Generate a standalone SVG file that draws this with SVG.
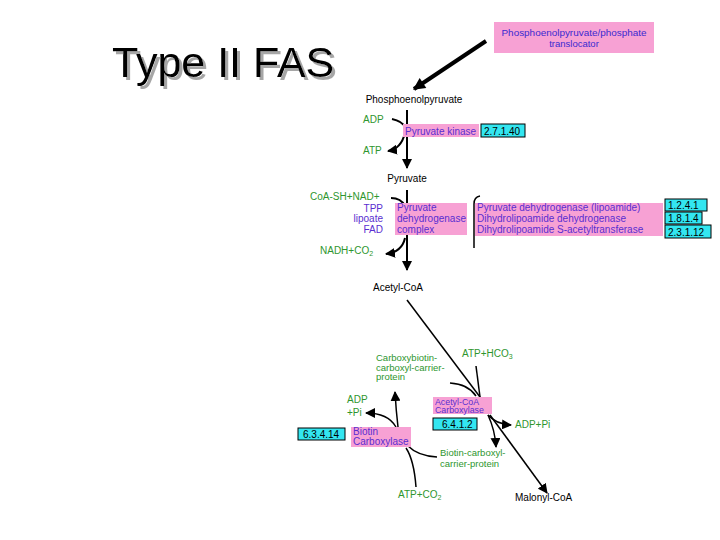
<svg xmlns="http://www.w3.org/2000/svg" width="720" height="540" viewBox="0 0 720 540">
<style>
text{font-family:"Liberation Sans",Arial,sans-serif;}
.cpd{font-size:10px;fill:#000;}
.grn{font-size:10px;fill:#2e962e;}
.sm{font-size:9.5px;}
.enz{font-size:10px;fill:#5a2ed0;}
.ec{font-size:10px;fill:#000;}
.pink{fill:#F7A1D4;}
.cyan{fill:#33E6F0;stroke:#000;stroke-width:1;}
.ln{fill:none;stroke:#000;stroke-width:2;}
.th{fill:none;stroke:#000;stroke-width:1.5;}
</style>
<defs>
<marker id="ah" viewBox="0 0 10 10" refX="9" refY="5" markerWidth="10" markerHeight="10" markerUnits="userSpaceOnUse" orient="auto"><path d="M0,0 L10,5 L0,10 z" fill="#000"/></marker>
<marker id="ahb" viewBox="0 0 10 10" refX="9" refY="5" markerWidth="14" markerHeight="12" markerUnits="userSpaceOnUse" orient="auto"><path d="M0,0 L10,5 L0,10 z" fill="#000"/></marker>
<filter id="shadow" x="-5%" y="-20%" width="115%" height="150%">
<feOffset in="SourceAlpha" dx="3" dy="3" result="o"/>
<feFlood flood-color="#a6a6a6"/>
<feComposite in2="o" operator="in" result="s"/>
<feMerge><feMergeNode in="s"/><feMergeNode in="SourceGraphic"/></feMerge>
</filter>
</defs>
<rect width="720" height="540" fill="#fff"/>
<g id="title">
<text x="112" y="77" font-size="43" fill="#000" filter="url(#shadow)">Type II FAS</text>
</g>
<g id="translocator">
<rect class="pink" x="494" y="22" width="160" height="31"/>
<text x="574" y="36" font-size="9.5" fill="#3a2ad0" text-anchor="middle" textLength="145" lengthAdjust="spacingAndGlyphs">Phosphoenolpyruvate/phosphate</text>
<text x="574" y="47" font-size="9.5" fill="#3a2ad0" text-anchor="middle">translocator</text>
</g>
<g id="connectors">
<path d="M486,41 L414,89" fill="none" stroke="#000" stroke-width="4" marker-end="url(#ahb)"/>
<path class="ln" d="M407,110 L407,168" marker-end="url(#ah)"/>
<path class="ln" d="M392,119 Q402,121 406,128"/>
<path class="ln" d="M405,133 Q401,149 388,151" marker-end="url(#ah)"/>
<path class="ln" d="M407,190 L407,270" marker-end="url(#ah)"/>
<path class="ln" d="M391,198 Q401,198 405,206"/>
<path class="ln" d="M405,238 Q402,252 386,254" marker-end="url(#ah)"/>
<path class="th" d="M407,300 L480,397"/>
<path class="th" d="M476,366 L480,397"/>
<path class="th" d="M450,383 Q468,384 476,396"/>
<path class="th" d="M488,415 Q496,424 511,425" marker-end="url(#ah)"/>
<path class="th" d="M488,415 Q495,430 496,447" marker-end="url(#ah)"/>
<path class="th" d="M490,415 L547,493" marker-end="url(#ah)"/>
<path class="th" d="M437,457 Q418,456 408,446"/>
<path class="th" d="M396,427 Q388,413 366,413" marker-end="url(#ah)"/>
<path class="th" d="M398,427 Q396,410 395,392" marker-end="url(#ah)"/>
<path class="th" d="M416,487 Q414,460 406,448"/>
<path class="th" d="M480,196 Q474,197 474,204 L474,248"/>
</g>
<g id="pep"><text class="cpd" x="414" y="103" text-anchor="middle">Phosphoenolpyruvate</text></g>
<g id="adp1"><text class="grn" x="363" y="123">ADP</text></g>
<g id="atp1"><text class="grn" x="363" y="154">ATP</text></g>
<g id="pk">
<rect class="pink" x="403" y="124" width="76" height="13"/>
<text class="enz" x="405" y="134.5">Pyruvate kinase</text>
<rect class="cyan" x="481" y="124" width="44" height="13"/>
<text class="ec" x="484" y="134.5">2.7.1.40</text>
</g>
<g id="pyruvate"><text class="cpd" x="407" y="182" text-anchor="middle">Pyruvate</text></g>
<g id="coa"><text class="grn" x="310" y="200">CoA-SH+NAD+</text></g>
<g id="cofactors">
<text class="enz" x="383" y="212" text-anchor="end">TPP</text>
<text class="enz" x="383" y="222" text-anchor="end">lipoate</text>
<text class="enz" x="383" y="233" text-anchor="end">FAD</text>
</g>
<g id="pdh">
<rect class="pink" x="395" y="203" width="72" height="32"/>
<text class="enz" x="397" y="211">Pyruvate</text>
<text class="enz" x="397" y="222">dehydrogenase</text>
<text class="enz" x="397" y="233">complex</text>
</g>
<g id="pdh-subunits">
<rect class="pink" x="475" y="203" width="188" height="33"/>
<text class="enz" x="477" y="211">Pyruvate dehydrogenase (lipoamide)</text>
<text class="enz" x="477" y="222">Dihydrolipoamide dehydrogenase</text>
<text class="enz" x="477" y="233">Dihydrolipoamide S-acetyltransferase</text>
</g>
<g id="ec-pdh">
<rect class="cyan" x="665" y="199" width="42" height="12"/>
<text class="ec" x="668" y="209">1.2.4.1</text>
<rect class="cyan" x="665" y="212" width="37" height="12"/>
<text class="ec" x="668" y="222">1.8.1.4</text>
<rect class="cyan" x="665" y="225" width="46" height="13"/>
<text class="ec" x="668" y="235.5">2.3.1.12</text>
</g>
<g id="nadh"><text class="grn" x="320" y="254">NADH+CO<tspan font-size="7" dy="2">2</tspan></text></g>
<g id="acetylcoa"><text class="cpd" x="398" y="291" text-anchor="middle">Acetyl-CoA</text></g>
<g id="atphco3"><text class="grn" x="462" y="357">ATP+HCO<tspan font-size="7" dy="2">3</tspan></text></g>
<g id="carboxybiotin">
<text class="grn sm" x="376" y="361">Carboxybiotin-</text>
<text class="grn sm" x="376" y="370.5">carboxyl-carrier-</text>
<text class="grn sm" x="376" y="380">protein</text>
</g>
<g id="acc">
<rect class="pink" x="433" y="397" width="59" height="17"/>
<text x="435" y="404.5" font-size="8.8" fill="#5a2ed0">Acetyl-CoA</text>
<text x="435" y="413" font-size="8.8" fill="#5a2ed0">Carboxylase</text>
<rect class="cyan" x="433" y="418" width="44" height="12"/>
<text class="ec" x="442" y="428">6.4.1.2</text>
</g>
<g id="adppi2"><text class="grn" x="515" y="428">ADP+Pi</text></g>
<g id="adppi1">
<text class="grn" x="347" y="403">ADP</text>
<text class="grn" x="347" y="416">+Pi</text>
</g>
<g id="bc">
<rect class="pink" x="351" y="427" width="60" height="20"/>
<text class="enz" x="353" y="435">Biotin</text>
<text class="enz" x="353" y="444.5">Carboxylase</text>
<rect class="cyan" x="298" y="428" width="47" height="12"/>
<text class="ec" x="303" y="438">6.3.4.14</text>
</g>
<g id="bccp">
<text class="grn sm" x="440" y="456">Biotin-carboxyl-</text>
<text class="grn sm" x="440" y="467">carrier-protein</text>
</g>
<g id="atpco2"><text class="grn" x="398" y="498">ATP+CO<tspan font-size="7" dy="2">2</tspan></text></g>
<g id="malonyl"><text class="cpd" x="515" y="501">Malonyl-CoA</text></g>
</svg>
